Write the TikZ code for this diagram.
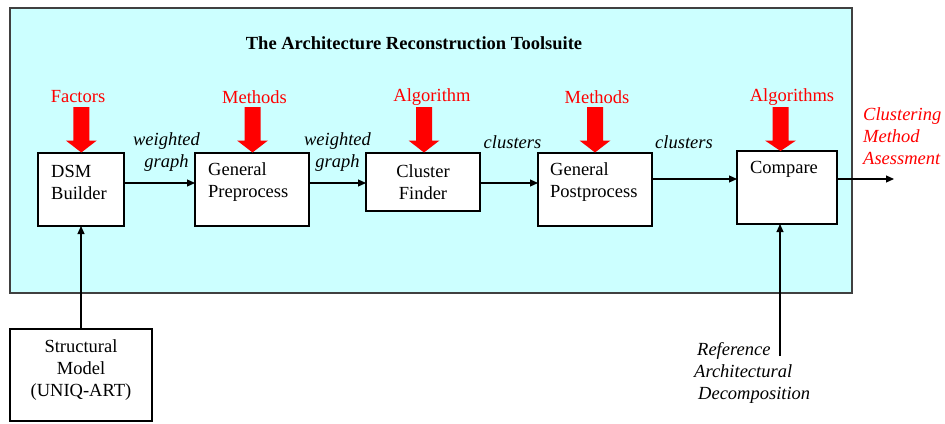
\documentclass[tikz,border=0pt]{standalone}
\usepackage{fontspec}
\setmainfont{Liberation Serif}
\newfontfamily\tnr{Liberation Serif}
\usetikzlibrary{arrows.meta}
\definecolor{panelcyan}{HTML}{CCFFFF}
\definecolor{panelborder}{HTML}{404040}
\definecolor{labred}{HTML}{FF0000}
\tikzset{
  box/.style={draw=black, line width=1.1pt, fill=white, inner sep=0pt, outer sep=0pt},
  txt/.style={font=\tnr\fontsize{18.5}{22}\selectfont, inner sep=0pt, align=left},
  ctxt/.style={font=\tnr\fontsize{18.5}{22}\selectfont, inner sep=0pt, align=center},
  itxt/.style={font=\tnr\fontsize{18.5}{22}\selectfont\itshape, inner sep=0pt, align=center},
  redlab/.style={font=\tnr\fontsize{18.5}{22}\selectfont, text=labred, inner sep=0pt},
  arr/.style={line width=1.1pt, -{Triangle[length=8pt,width=7pt]}},
  bigarrow/.style={fill=labred, draw=none}
}
\newcommand{\redarrow}[2]{% center x, tip y
  \fill[bigarrow] (#1-8,107) -- (#1+8,107) -- (#1+8,140.5) -- (#1+15.5,140.5)
    -- (#1,#2) -- (#1-15.5,140.5) -- (#1-8,140.5) -- cycle;}
\begin{document}
\begin{tikzpicture}[x=1pt,y=-1pt]
\useasboundingbox (0,0) rectangle (945,423);
\fill[white] (0,0) rectangle (945,423);
% panel
\draw[fill=panelcyan, draw=panelborder, line width=1.1pt] (10,8) rectangle (852,293);
\node[font=\tnr\fontsize{18.5}{22}\selectfont\bfseries, inner sep=0pt] (title) at (414,43)
  {The Architecture Reconstruction Toolsuite};
% boxes
\node[box, minimum width=86pt, minimum height=73pt] (dsm) at (81,189.5) {};
\node[box, minimum width=114pt, minimum height=73pt] (pre) at (252,189.5) {};
\node[box, minimum width=114pt, minimum height=58pt] (cl) at (423,182) {};
\node[box, minimum width=114pt, minimum height=73pt] (post) at (595,189.5) {};
\node[box, minimum width=100pt, minimum height=73pt] (cmp) at (787,187.5) {};
\node[box, minimum width=142pt, minimum height=92pt] (st) at (81,375) {};
% box texts
\node[txt, anchor=west] (dsmt) at (51,182.5) {DSM\\Builder};
\node[txt, anchor=west] (pret) at (208,182.5) {General\\Preprocess};
\node[ctxt] (clt) at (423,182.5) {Cluster\\Finder};
\node[txt, anchor=west] (postt) at (550,182.5) {General\\Postprocess};
\node[ctxt] (cmpt) at (784,169) {Compare};
\node[ctxt] (stt) at (81,370) {Structural\\Model\\(UNIQ-ART)};
% red labels and arrows
\node[redlab] (f1) at (78,97) {Factors};
\node[redlab] (f2) at (254.5,97) {Methods};
\node[redlab] (f3) at (432,97) {Algorithm};
\node[redlab] (f4) at (597,97) {Methods};
\node[redlab] (f5) at (792,97) {Algorithms};
\redarrow{81.3}{152.5}
\redarrow{252.5}{152.5}
\redarrow{424}{152.5}
\redarrow{595}{152.5}
\redarrow{780.5}{151}
% edge labels
\node[itxt] (w1) at (166.5,152) {weighted\\graph};
\node[itxt] (w2) at (337.5,152) {weighted\\graph};
\node[itxt] (c1) at (512.5,142) {clusters};
\node[itxt] (c2) at (684,142) {clusters};
\node[itxt, text=labred, align=left, anchor=west] (cma) at (863,136) {Clustering\\Method\\Asessment};
\node[itxt, align=left, anchor=west] (ref) at (694,373) {\hspace*{3pt}Reference\\Architectural\\\hspace*{4pt}Decomposition};
% connectors
\coordinate (out) at (894,179);
\coordinate (refpt) at (780,356);
\draw[arr] ([yshift=6.5pt]dsm.east) -- ([yshift=6.5pt]dsm.east -| pre.west);
\draw[arr] ([yshift=6.5pt]pre.east) -- ([yshift=6.5pt]pre.east -| cl.west);
\draw[arr] ([yshift=6.5pt]pre.east -| cl.east) -- ([yshift=6.5pt]post.west);
\draw[arr] ([yshift=10.5pt]post.east) -- ([yshift=10.5pt]post.east -| cmp.west);
\draw[arr] (cmp.east |- out) -- (out);
\draw[arr] (st.north) -- (dsm.south);
\draw[arr] (refpt) -- (refpt |- cmp.south);
\end{tikzpicture}
\end{document}
